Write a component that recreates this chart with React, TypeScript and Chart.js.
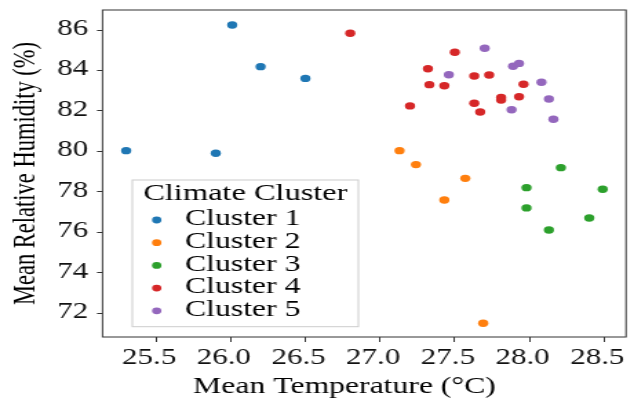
import { useEffect, useRef } from "react";
import { Chart, registerables } from "chart.js";

Chart.register(...registerables);

// ---- data ----
const clusterNames = ["Cluster 1", "Cluster 2", "Cluster 3", "Cluster 4", "Cluster 5"];
const clusterColors = ["#1f77b4", "#ff7f0e", "#2ca02c", "#d62728", "#9467bd"];

const c1Temp = [25.3, 25.9, 26.01, 26.2, 26.5];
const c1Hum = [80.04, 79.91, 86.25, 84.19, 83.61];

const c2Temp = [27.13, 27.24, 27.57, 27.43, 27.69];
const c2Hum = [80.04, 79.35, 78.67, 77.6, 71.51];

const c3Temp = [28.21, 27.98, 28.49, 27.98, 28.4, 28.13];
const c3Hum = [79.2, 78.21, 78.13, 77.21, 76.71, 76.12];

const c4Temp = [26.8, 27.5, 27.32, 27.63, 27.73, 27.33, 27.43, 27.96, 27.2, 27.63, 27.67, 27.81, 27.81, 27.93];
const c4Hum = [85.84, 84.9, 84.09, 83.73, 83.78, 83.3, 83.25, 83.32, 82.25, 82.38, 81.95, 82.67, 82.54, 82.7];

const c5Temp = [27.7, 27.46, 27.89, 27.93, 28.08, 28.13, 27.88, 28.16];
const c5Hum = [85.1, 83.79, 84.21, 84.35, 83.42, 82.59, 82.06, 81.59];

const xTicks = [25.5, 26.0, 26.5, 27.0, 27.5, 28.0, 28.5];
const yTicks = [72, 74, 76, 78, 80, 82, 84, 86];
const xRange = [25.142, 28.646];
const yRange = [70.83, 86.99];

const xTitle = "Mean Temperature (°C)";
const yTitle = "Mean Relative Humidity (%)";
const legendTitle = "Climate Cluster";

const seriesTemp = [c1Temp, c2Temp, c3Temp, c4Temp, c5Temp];
const seriesHum = [c1Hum, c2Hum, c3Hum, c4Hum, c5Hum];

// ---- layout (internal canvas units; canvas is stretched horizontally) ----
const OUT_W = 634;
const OUT_H = 401;
const IN_W = 460;
const FONT = "'Liberation Serif', 'Times New Roman', Times, serif";

const framePlugin = {
  id: "frame",
  afterDatasetsDraw(chart: any) {
    const { ctx, chartArea: a } = chart;
    ctx.save();
    ctx.strokeStyle = "#333333";
    ctx.lineWidth = 1;
    ctx.strokeRect(a.left, a.top, a.right - a.left, a.bottom - a.top);
    ctx.restore();
  },
};

const insetLegend = {
  id: "insetLegend",
  afterDraw(chart: any, _args: any, opts: any) {
    const { ctx, chartArea: a } = chart;
    const x = a.left + opts.dx;
    const top = a.bottom - opts.dy - opts.h;
    ctx.save();
    ctx.fillStyle = "rgba(255,255,255,0.8)";
    ctx.fillRect(x, top, opts.w, opts.h);
    ctx.strokeStyle = "#cccccc";
    ctx.lineWidth = 1;
    ctx.strokeRect(x, top, opts.w, opts.h);
    ctx.fillStyle = "#000000";
    ctx.textBaseline = "middle";
    ctx.textAlign = "center";
    ctx.font = `${opts.titleSize}px ${FONT}`;
    ctx.fillText(opts.title, x + opts.w / 2, top + opts.titleY);
    ctx.textAlign = "left";
    ctx.font = `${opts.fontSize}px ${FONT}`;
    chart.data.datasets.forEach((ds: any, i: number) => {
      const y = top + opts.rowY + i * opts.rowGap;
      ctx.fillStyle = ds.backgroundColor;
      ctx.beginPath();
      ctx.arc(x + opts.markerX, y + opts.markerDy - i * 0.1, opts.markerR, 0, Math.PI * 2);
      ctx.fill();
      ctx.fillStyle = "#000000";
      ctx.fillText(ds.label, x + opts.textX, y);
    });
    ctx.restore();
  },
};

export default function App() {
  const ref = useRef<HTMLCanvasElement | null>(null);

  useEffect(() => {
    if (!ref.current) return;
    const datasets = clusterNames.map((name, i) => ({
      label: name,
      data: seriesTemp[i].map((t, k) => ({ x: t, y: seriesHum[i][k] })),
      backgroundColor: clusterColors[i],
      borderColor: clusterColors[i],
      pointRadius: 3.7,
      pointHoverRadius: 3.7,
      pointBorderWidth: 0,
      order: i,
    }));

    const tickFont = { family: FONT, size: 22.5, lineHeight: 1 };
    const chart = new Chart(ref.current, {
      type: "scatter",
      data: { datasets },
      plugins: [framePlugin, insetLegend],
      options: {
        animation: false,
        responsive: false,
        devicePixelRatio: 1,
        layout: { padding: { top: 10, right: 5.8, left: 0, bottom: 0 } },
        plugins: {
          legend: { display: false },
          tooltip: { enabled: false },
          insetLegend: {
            title: legendTitle,
            titleSize: 23.5,
            fontSize: 23,
            dx: 21.6,
            dy: 10.3,
            w: 164,
            h: 146.7,
            titleY: 13.8,
            rowY: 38.9,
            rowGap: 22.8,
            markerX: 17.7,
            markerDy: 1.1,
            markerR: 3.4,
            textX: 38.2,
          },
        } as any,
        scales: {
          x: {
            type: "linear",
            min: xRange[0],
            max: xRange[1],
            afterBuildTicks: (s: any) => {
              s.ticks = xTicks.map((value) => ({ value }));
            },
            afterFit: (s: any) => {
              s.height = 64;
              s.paddingLeft = 0;
              s.paddingRight = 0;
            },
            ticks: {
              callback: (v: any) => Number(v).toFixed(1),
              font: tickFont,
              color: "#111111",
              padding: 4.6,
              labelOffset: -5,
              maxRotation: 0,
              minRotation: 0,
              autoSkip: false,
            },
            grid: { drawOnChartArea: false, tickLength: 5, color: "#333333", tickColor: "#333333" },
            border: { display: false },
            title: {
              display: true,
              text: xTitle + "\u00a0\u00a0\u00a0\u00a0\u00a0",
              color: "#000000",
              font: { family: FONT, size: 23, lineHeight: 1 },
              padding: { top: 0, bottom: 2.4 },
            },
          },
          y: {
            type: "linear",
            min: yRange[0],
            max: yRange[1],
            afterBuildTicks: (s: any) => {
              s.ticks = yTicks.map((value) => ({ value }));
            },
            afterFit: (s: any) => {
              s.width = 74.4;
              s.paddingTop = 0;
              s.paddingBottom = 0;
            },
            ticks: {
              callback: (v: any) => Number(v).toFixed(0),
              font: tickFont,
              color: "#111111",
              padding: 6.5,
              labelOffset: -1,
              autoSkip: false,
            },
            grid: { drawOnChartArea: false, tickLength: 4, color: "#333333", tickColor: "#333333" },
            border: { display: false },
            title: {
              display: true,
              text: yTitle,
              color: "#000000",
              font: { family: FONT, size: 22.5, lineHeight: 1 },
              padding: { top: 8, bottom: 0 },
            },
          },
        },
      } as any,
    });
    return () => chart.destroy();
  }, []);

  return (
    <div style={{ position: "absolute", left: 0, top: 0, width: OUT_W, height: OUT_H, background: "#fff" }}>
      <canvas
        ref={ref}
        width={IN_W}
        height={OUT_H}
        style={{ display: "block", width: `${OUT_W}px`, height: `${OUT_H}px` }}
      />
    </div>
  );
}
